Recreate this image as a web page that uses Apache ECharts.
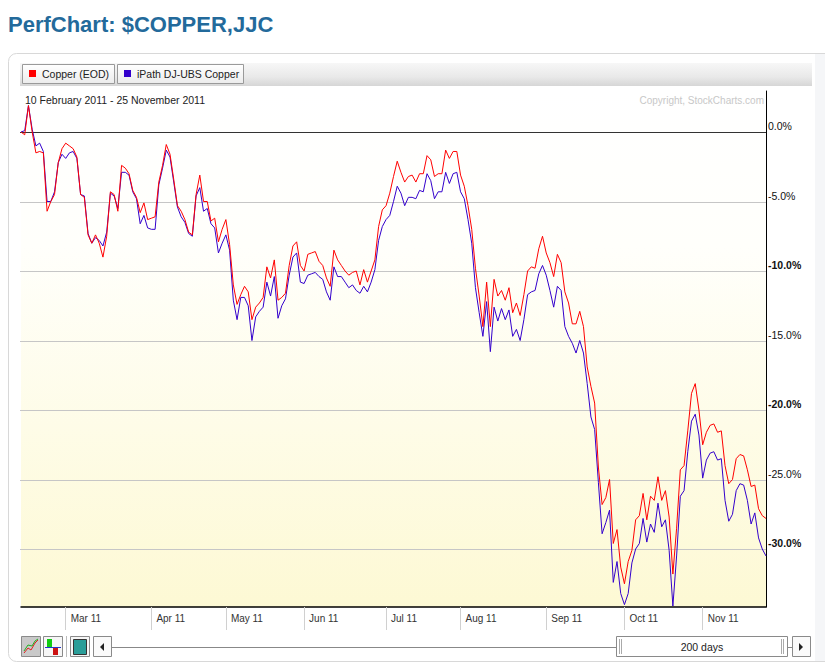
<!DOCTYPE html>
<html><head><meta charset="utf-8">
<script src="https://cdn.jsdelivr.net/npm/echarts@6/dist/echarts.min.js"></script>
<style>html,body{margin:0;padding:0;background:#fff;}#c{width:825px;height:668px;}</style>
</head><body><div id="c"></div>
<script>
const titleText = 'PerfChart: $COPPER,JJC';
const rangeText = '10 February 2011 - 25 November 2011';
const copyrightText = 'Copyright, StockCharts.com';
const seriesNames = ['Copper (EOD)', 'iPath DJ-UBS Copper'];
const seriesColors = ['#ff0000', '#3300cc'];
const holidays = ['2011-02-21','2011-04-22','2011-05-30','2011-07-04','2011-09-05','2011-11-24'];
const monthNames = ['Jan','Feb','Mar','Apr','May','Jun','Jul','Aug','Sep','Oct','Nov','Dec'];
const yTicks = [0, -5, -10, -15, -20, -25, -30];
const periodLabel = '200 days';

const copper = [
 0,-0.2,1.9,0.0,-1.5,-1.4,-1.5,-5.7,-5.0,-4.5,
 -2.2,-1.2,-0.8,-1.0,-1.2,-1.8,-4.5,-4.7,-7.4,-8.0,
 -7.4,-8.0,-9.0,-7.5,-4.3,-4.5,-5.7,-2.4,-2.6,-3.0,
 -4.2,-4.7,-5.8,-5.1,-6.3,-6.2,-6.1,-3.6,-2.4,-0.9,
 -1.6,-3.4,-5.3,-5.7,-6.3,-7.2,-7.4,-4.5,-3.1,-5.0,
 -5.0,-6.4,-6.2,-7.9,-7.0,-6.3,-8.1,-11.0,-12.4,-11.7,
 -11.1,-11.5,-13.5,-12.6,-12.3,-11.9,-9.7,-10.5,-9.2,-12.1,
 -11.9,-11.6,-9.6,-8.2,-7.9,-9.6,-10.0,-8.8,-8.7,-8.6,
 -9.3,-9.6,-10.5,-11.1,-8.5,-9.2,-9.6,-10.0,-10.3,-10.1,
 -10.0,-11.0,-9.9,-10.8,-10.0,-9.2,-6.8,-5.6,-5.3,-4.4,
 -3.2,-2.1,-2.9,-3.6,-3.2,-3.1,-3.6,-3.0,-3.0,-1.7,
 -2.0,-3.2,-3.0,-3.0,-1.3,-1.9,-1.4,-1.4,-3.1,-3.9,
 -5.3,-7.0,-9.8,-11.8,-14.0,-10.8,-14.0,-10.6,-11.8,-11.4,
 -12.1,-11.2,-13.0,-12.3,-13.2,-11.7,-10.0,-9.7,-9.8,-8.4,
 -7.5,-8.7,-9.4,-10.4,-8.8,-9.4,-11.5,-12.3,-13.8,-13.8,
 -12.9,-14.0,-16.9,-18.3,-19.5,-24.1,-26.8,-26.3,-25.0,-29.6,
 -28.6,-31.3,-32.5,-30.9,-30.1,-27.9,-27.6,-26.0,-27.9,-26.2,
 -26.5,-24.8,-26.5,-25.8,-27.7,-31.8,-28.5,-24.3,-24.0,-21.5,
 -18.8,-18.1,-20.0,-22.5,-21.6,-21.1,-21.0,-21.6,-21.5,-24.0,
 -25.3,-25.0,-23.5,-23.2,-23.3,-24.3,-25.5,-25.4,-27.1,-27.6,
 -27.8
];
const jjc = [
 0,0.1,1.9,0.2,-1.0,-0.8,-1.4,-5.0,-5.0,-4.3,
 -2.2,-1.6,-1.9,-1.5,-1.4,-1.9,-4.5,-4.6,-7.3,-8.0,
 -7.6,-7.8,-8.2,-7.2,-4.4,-4.6,-5.5,-2.9,-2.9,-3.1,
 -4.3,-4.8,-6.6,-6.0,-6.9,-7.0,-7.0,-3.8,-2.6,-1.3,
 -1.8,-3.6,-5.4,-6.1,-6.5,-7.3,-7.5,-4.6,-4.0,-5.7,
 -5.5,-6.6,-6.9,-8.7,-8.0,-7.4,-8.5,-12.1,-13.5,-11.9,
 -11.9,-12.5,-15.0,-13.3,-12.9,-12.6,-10.8,-11.8,-10.4,-13.4,
 -12.5,-12.0,-10.3,-9.0,-8.7,-10.8,-10.9,-10.3,-10.2,-10.1,
 -10.4,-10.6,-11.5,-12.1,-9.7,-10.4,-10.4,-10.8,-11.2,-11.0,
 -11.4,-11.6,-11.1,-11.5,-10.8,-9.9,-7.8,-6.8,-6.3,-6.0,
 -5.0,-3.9,-4.4,-5.3,-4.7,-4.7,-4.8,-4.2,-4.3,-3.0,
 -3.5,-4.8,-4.3,-4.3,-2.9,-3.7,-3.0,-2.9,-4.3,-4.8,
 -6.3,-8.0,-11.2,-13.0,-14.7,-12.2,-15.8,-12.6,-13.6,-12.7,
 -13.5,-12.8,-14.7,-14.2,-15.0,-13.5,-11.7,-11.5,-11.4,-10.2,
 -9.6,-10.3,-11.4,-12.6,-11.1,-11.4,-14.0,-14.7,-15.2,-15.9,
 -15.0,-15.9,-18.1,-20.5,-21.4,-25.2,-28.9,-28.1,-27.2,-32.4,
 -30.9,-33.2,-34.0,-33.2,-31.0,-30.0,-29.6,-27.8,-29.5,-28.2,
 -28.8,-26.7,-28.4,-27.9,-30.1,-34.1,-30.5,-26.2,-25.8,-23.0,
 -20.8,-20.3,-21.8,-24.9,-23.6,-23.1,-23.0,-23.6,-23.5,-26.5,
 -28.0,-27.5,-25.8,-25.3,-25.4,-26.5,-28.2,-27.4,-29.2,-30.0,
 -30.5
];

function tradingDays() {
  const out = [];
  let t = Date.UTC(2011, 1, 10);
  const end = Date.UTC(2011, 10, 25);
  while (t <= end) {
    const d = new Date(t);
    const wd = d.getUTCDay();
    const s = d.toISOString().slice(0, 10);
    if (wd !== 0 && wd !== 6 && holidays.indexOf(s) < 0) out.push(s);
    t += 86400000;
  }
  return out;
}
const dates = tradingDays();
function isMonthStart(i) { return i > 0 && dates[i].slice(5, 7) !== dates[i - 1].slice(5, 7); }
function monthLabel(s) { return monthNames[parseInt(s.slice(5, 7), 10) - 1] + ' ' + s.slice(2, 4); }

const FONT = '"Liberation Sans", Arial, sans-serif';
const chart = echarts.init(document.getElementById('c'), null, { renderer: 'svg' });
chart.setOption({
  animation: false,
  backgroundColor: 'transparent',
  grid: { left: 21, right: 59, top: 91, bottom: 61, containLabel: false },
  xAxis: {
    type: 'category', data: dates, boundaryGap: false,
    axisLine: { show: true, onZero: false, lineStyle: { color: '#000', width: 1.5 } },
    axisTick: { show: true, inside: false, interval: (i) => isMonthStart(i), length: 23, lineStyle: { color: '#d0d0d0' } },
    axisLabel: { show: true, interval: (i) => isMonthStart(i), formatter: monthLabel, align: 'left', padding: [0, 0, 0, 5], margin: 6, fontSize: 10, color: '#333', fontFamily: FONT },
    splitLine: { show: false }
  },
  yAxis: {
    type: 'value', position: 'right', min: -34.17, max: 2.95,
    axisLine: { show: true, onZero: false, lineStyle: { color: '#000', width: 1 } },
    axisTick: { show: false }, axisLabel: { show: false }, splitLine: { show: false }
  },
  series: [
    { type: 'line', name: seriesNames[1], data: jjc, symbol: 'none', z: 3,
      lineStyle: { color: seriesColors[1], width: 1 }, itemStyle: { color: seriesColors[1] } },
    { type: 'line', name: seriesNames[0], data: copper, symbol: 'none', z: 4,
      lineStyle: { color: seriesColors[0], width: 1 }, itemStyle: { color: seriesColors[0] } }
  ]
});

const xL = chart.convertToPixel({ xAxisIndex: 0 }, 0);
const xR = chart.convertToPixel({ xAxisIndex: 0 }, dates.length - 1);
const yTop = chart.convertToPixel({ yAxisIndex: 0 }, 2.95);
const yBot = chart.convertToPixel({ yAxisIndex: 0 }, -34.17);

const els = [];
// panel
els.push({ type: 'rect', z: -10, shape: { x: 8.5, y: 53.5, width: 830, height: 608, r: 8 }, style: { fill: '#fff', stroke: '#d8d8d8', lineWidth: 1 } });
els.push({ type: 'rect', z: -9, shape: { x: 815, y: 54, width: 10, height: 607 }, style: { fill: '#f5f6f8' } });
// title
els.push({ type: 'text', z: 20, style: { x: 8, y: 24, text: titleText, fill: '#236a9b', font: 'bold 22px ' + FONT, verticalAlign: 'middle' } });
// legend bar
els.push({ type: 'rect', z: -8, shape: { x: 20, y: 63, width: 792, height: 23 }, style: { fill: { type: 'linear', x: 0, y: 0, x2: 0, y2: 1, colorStops: [{ offset: 0, color: '#f7f7f7' }, { offset: 0.6, color: '#e9e9e9' }, { offset: 1, color: '#d6d6d6' }] } } });
const legendBoxes = [[22, 92], [117, 126]];
legendBoxes.forEach((b, k) => {
  els.push({ type: 'rect', z: -7, shape: { x: b[0] + 0.5, y: 64.5, width: b[1], height: 19 }, style: { fill: { type: 'linear', x: 0, y: 0, x2: 0, y2: 1, colorStops: [{ offset: 0, color: '#ffffff' }, { offset: 1, color: '#ececec' }] }, stroke: '#9a9a9a', lineWidth: 1 } });
  els.push({ type: 'rect', z: -6, shape: { x: b[0] + 7, y: 70, width: 7, height: 7 }, style: { fill: seriesColors[k] } });
  els.push({ type: 'text', z: 20, style: { x: b[0] + 20, y: 74, text: seriesNames[k], fill: '#222', font: '10.5px ' + FONT, verticalAlign: 'middle' } });
});
// plot background
els.push({ type: 'rect', z: -5, shape: { x: xL, y: yTop, width: xR - xL, height: yBot - yTop }, style: { fill: { type: 'linear', x: 0, y: 0, x2: 0, y2: 1, colorStops: [{ offset: 0, color: '#ffffff' }, { offset: 0.3, color: '#fffffb' }, { offset: 1, color: '#fdf9d4' }] } } });
// grid lines and labels
yTicks.forEach(v => {
  const y = Math.round(chart.convertToPixel({ yAxisIndex: 0 }, v)) + 0.5;
  els.push({ type: 'line', z: -4, shape: { x1: xL - 1, y1: y, x2: xR + 1, y2: y }, style: { stroke: v === 0 ? '#333' : '#c6c6c6', lineWidth: 1 } });
  const bold = (v !== 0 && v % 10 === 0);
  els.push({ type: 'text', z: 20, style: { x: xR + 2, y: y - 6.5, text: v.toFixed(1) + '%', fill: '#111', font: (bold ? 'bold ' : '') + '10.5px ' + FONT, verticalAlign: 'middle' } });
});
// header texts
els.push({ type: 'text', z: 20, style: { x: 25, y: 100, text: rangeText, fill: '#222', font: '10.5px ' + FONT, verticalAlign: 'middle' } });
els.push({ type: 'text', z: 20, style: { x: 764, y: 100.5, text: copyrightText, fill: '#c8c8c8', font: '10px ' + FONT, verticalAlign: 'middle', align: 'right' } });
// bottom toolbar
const btn = (x, w, fill) => ({ type: 'rect', z: 1, shape: { x: x + 0.5, y: 636.5, width: w, height: 20 }, style: { fill: fill, stroke: '#8a8a8a', lineWidth: 1 } });
els.push(btn(21, 19, '#c9c9c9'));
els.push({ type: 'polyline', z: 2, shape: { points: [[24, 653], [28, 648], [31, 650], [35, 643], [38, 640]] }, style: { stroke: '#e02020', lineWidth: 1, fill: null } });
els.push({ type: 'polyline', z: 2, shape: { points: [[24, 651], [28, 645], [32, 646], [35, 641], [38, 639]] }, style: { stroke: '#20b020', lineWidth: 1, fill: null } });
els.push(btn(43, 19, '#f6f6f6'));
els.push({ type: 'rect', z: 2, shape: { x: 47, y: 639, width: 5, height: 8 }, style: { fill: '#11cc11' } });
els.push({ type: 'rect', z: 2, shape: { x: 53, y: 647, width: 5, height: 8 }, style: { fill: '#cc1111' } });
els.push({ type: 'line', z: 3, shape: { x1: 45, y1: 647.5, x2: 61, y2: 647.5 }, style: { stroke: '#2233cc', lineWidth: 1 } });
els.push({ type: 'line', z: 1, shape: { x1: 66.5, y1: 636, x2: 66.5, y2: 657 }, style: { stroke: '#bbb', lineWidth: 1 } });
els.push(btn(70, 19, '#f6f6f6'));
els.push({ type: 'rect', z: 2, shape: { x: 73.5, y: 639.5, width: 13, height: 15 }, style: { fill: '#2a9d98', stroke: '#333', lineWidth: 1 } });
els.push(btn(93, 18, '#fafafa'));
els.push({ type: 'polygon', z: 2, shape: { points: [[100, 647], [104, 643], [104, 651]] }, style: { fill: '#222' } });
els.push({ type: 'line', z: 1, shape: { x1: 112, y1: 647.5, x2: 616, y2: 647.5 }, style: { stroke: '#888', lineWidth: 1 } });
els.push(btn(616, 171, '#ffffff'));
[619.5, 621.5, 781.5, 783.5].forEach(x => els.push({ type: 'line', z: 2, shape: { x1: x, y1: 639, x2: x, y2: 654 }, style: { stroke: '#aaa', lineWidth: 1 } }));
els.push({ type: 'text', z: 20, style: { x: 702, y: 647, text: periodLabel, fill: '#222', font: '10.5px ' + FONT, align: 'center', verticalAlign: 'middle' } });
els.push({ type: 'line', z: 1, shape: { x1: 787, y1: 647.5, x2: 792, y2: 647.5 }, style: { stroke: '#888', lineWidth: 1 } });
els.push(btn(792, 18, '#fafafa'));
els.push({ type: 'polygon', z: 2, shape: { points: [[803, 647], [799, 643], [799, 651]] }, style: { fill: '#222' } });

chart.setOption({ graphic: { elements: els } });
</script></body></html>
